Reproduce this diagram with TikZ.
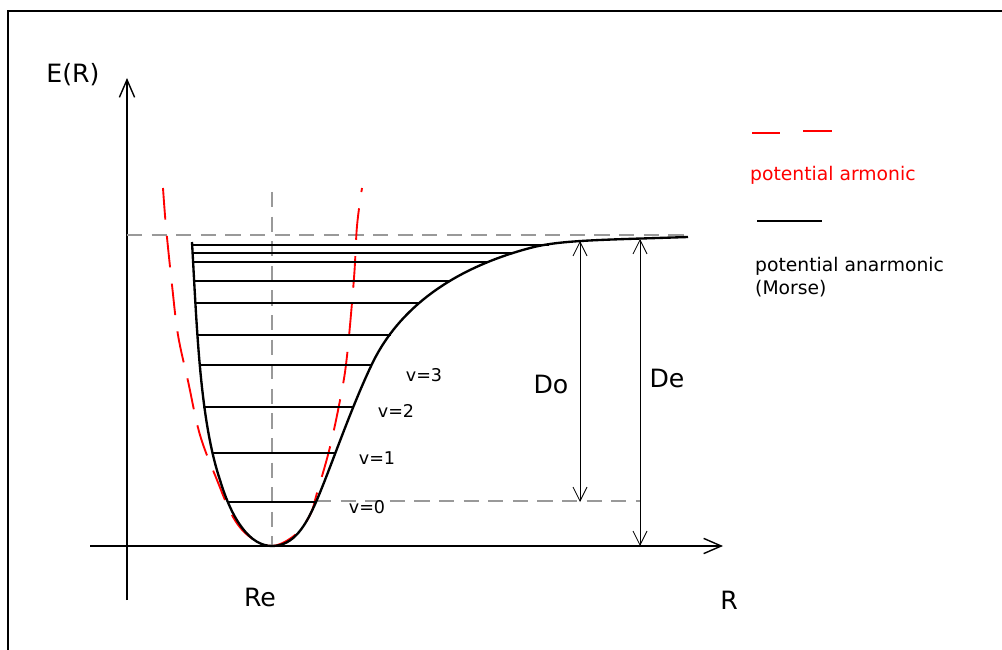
\documentclass[tikz,border=0pt]{standalone}
\usepackage{fontspec}
\setmainfont{DejaVu Sans}
\usetikzlibrary{arrows.meta}

\begin{document}
\begin{tikzpicture}[
        x=0.03cm, y=-0.03cm,
        frame/.style={line width=1.6pt},
        axis/.style={line width=1.2pt, -{Straight Barb[length=15pt, width=13pt, line width=1.2pt]}},
        guide/.style={gray!80, line width=1.1pt, dash pattern=on 13pt off 8pt},
        harmonic/.style={red, line width=1.6pt, dash pattern=on 27pt off 14pt},
        morse/.style={line width=2pt, line join=round},
        level/.style={line width=1.4pt},
        dimarrow/.style={line width=0.7pt, {Straight Barb[length=12pt, width=12pt]}-{Straight Barb[length=12pt, width=12pt]}},
        big/.style={font=\fontsize{21.5}{26}\selectfont},
        vlabel/.style={font=\fontsize{15}{18}\selectfont},
        legend/.style={font=\fontsize{16}{19.5}\selectfont, anchor=west, align=left, inner sep=0pt}
    ]
    \useasboundingbox (0,0) rectangle (1002,650);

    % Frame
    \draw[frame] (1002,11) -- (8,11) -- (8,650);

    % Axes
    \coordinate (Ybot) at (127,600);
    \coordinate (Ytop) at (127,78);
    \coordinate (Xleft) at (90,546);
    \coordinate (Xright) at (723,546);
    \draw[axis] (Ybot) -- (Ytop);
    \draw[axis] (Xleft) -- (Xright);

    % Guide lines
    \draw[guide] (127,235) -- (690,235);
    \draw[guide] (272,192) -- (272,546);
    \draw[guide] (316,501) -- (640,501);

    % Harmonic potential
    \draw[harmonic] plot[smooth, tension=0.6] coordinates {(163,188) (166,227) (172,285) (178,335) (188,381) (200,435) (217,480) (233,517) (250,537) (272,546) (295,535) (310,515) (317,493) (330,447) (341,395) (347,356) (354,278) (357,226) (362,188)};

    % Morse potential
    \draw[morse] (192,242) .. controls (197,330) and (200,420) .. (220,480)
        .. controls (232,520) and (250,546) .. (272,546)
        .. controls (294,546) and (306,525) .. (316,502)
        .. controls (330,470) and (350,410) .. (372,364)
        .. controls (394,318) and (440,272) .. (530,248)
        .. controls (560,240) and (600,240) .. (688,237);

    % Vibrational levels
    \foreach \y/\xl/\xr in {245/192/549, 253/193/513, 262/193/487, 281/195/451, 303/196/420, 335/198/391, 365/200/372, 407/203/353, 453/212/335, 502/228/316}
        \draw[level] (\xl,\y) -- (\xr,\y);

    \node[vlabel] (v3) at (424,375) {v=3};
    \node[vlabel] (v2) at (396,411) {v=2};
    \node[vlabel] (v1) at (377,458) {v=1};
    \node[vlabel] (v0) at (367,507) {v=0};

    % Dissociation energies
    \coordinate (DoTop) at (580,241);
    \coordinate (DoBot) at (580,502);
    \coordinate (DeTop) at (640,239);
    \coordinate (DeBot) at (640,546);
    \draw[dimarrow] (DoTop) -- (DoBot);
    \draw[dimarrow] (DeTop) -- (DeBot);
    \node[big] (Do) at (551,384) {Do};
    \node[big] (De) at (667,378) {De};

    % Axis labels
    \node[big] (ER) at (73,75) {E(R)};
    \node[big] (Re) at (260,597) {Re};
    \node[big] (R) at (729,600) {R};

    % Legend
    \draw[red, line width=1.6pt] (752,133) -- (780,133) (803,131) -- (832,131);
    \node[legend, red] (Harm) at (750,175) {potential armonic};
    \draw[line width=1.6pt] (757,221) -- (822,221);
    \node[legend] (Anharm) at (755,277) {potential anarmonic\\(Morse)};

\end{tikzpicture}
\end{document}
